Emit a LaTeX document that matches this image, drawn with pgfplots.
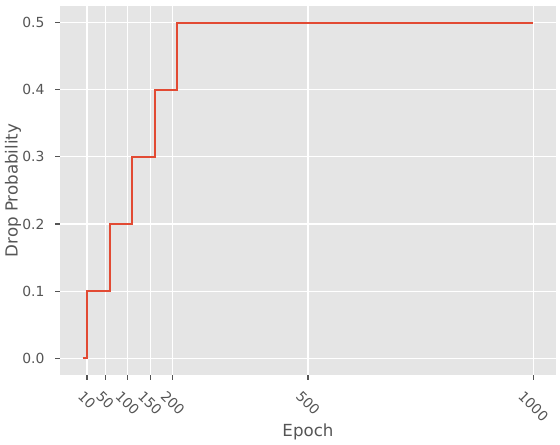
\documentclass[border=0pt]{standalone}
\usepackage{fontspec}
\setmainfont{DejaVu Sans}
\usepackage{graphicx}
\usepackage{pgfplots}
\pgfplotsset{compat=1.18}
\definecolor{bgray}{HTML}{E5E5E5}
\definecolor{txt}{HTML}{555555}
\definecolor{redline}{HTML}{E24A33}
\begin{document}
\begin{tikzpicture}
\begin{axis}[
  scale only axis,
  width=357.1pt, height=265.7pt,
  xmin=-50, xmax=1050,
  ymin=-0.025, ymax=0.525,
  axis background/.style={fill=bgray},
  axis line style={draw=none},
  grid=major,
  major grid style={white, line width=0.8pt},
  tick pos=left,
  tick align=outside,
  major tick length=3.5pt,
  every tick/.style={txt, line width=0.8pt},
  xtick={10,50,100,150,200,500,1000},
  xticklabels={\rotatebox{-45}{10},\rotatebox{-45}{50},\rotatebox{-45}{100},\rotatebox{-45}{150},\rotatebox{-45}{200},\rotatebox{-45}{500},\rotatebox{-45}{1000}},
  ytick={0,0.1,0.2,0.3,0.4,0.5},
  yticklabels={0.0,0.1,0.2,0.3,0.4,0.5},
  tick label style={font=\fontsize{10}{12}\selectfont, text=txt},
  xticklabel style={anchor=north, inner sep=0pt, yshift=-7.2pt},
  yticklabel style={anchor=east, inner sep=0pt, xshift=-7.5pt},
  xlabel={Epoch},
  ylabel={Drop Probability},
  label style={font=\fontsize{12}{14}\selectfont, text=txt},
  xlabel style={at={(axis description cs:0.5,0)}, anchor=center, yshift=-41pt},
  ylabel style={at={(axis description cs:0,0.5)}, anchor=center, yshift=33.8pt},
]
\addplot[const plot, redline, line width=1.5pt] coordinates {
  (0,0) (10,0.1) (60,0.2) (110,0.3) (160,0.4) (210,0.5) (1000,0.5)
};
\end{axis}
\pgfresetboundingbox
\path (-43.2pt,-50.4pt) rectangle (360pt,270pt);
\end{tikzpicture}
\end{document}
